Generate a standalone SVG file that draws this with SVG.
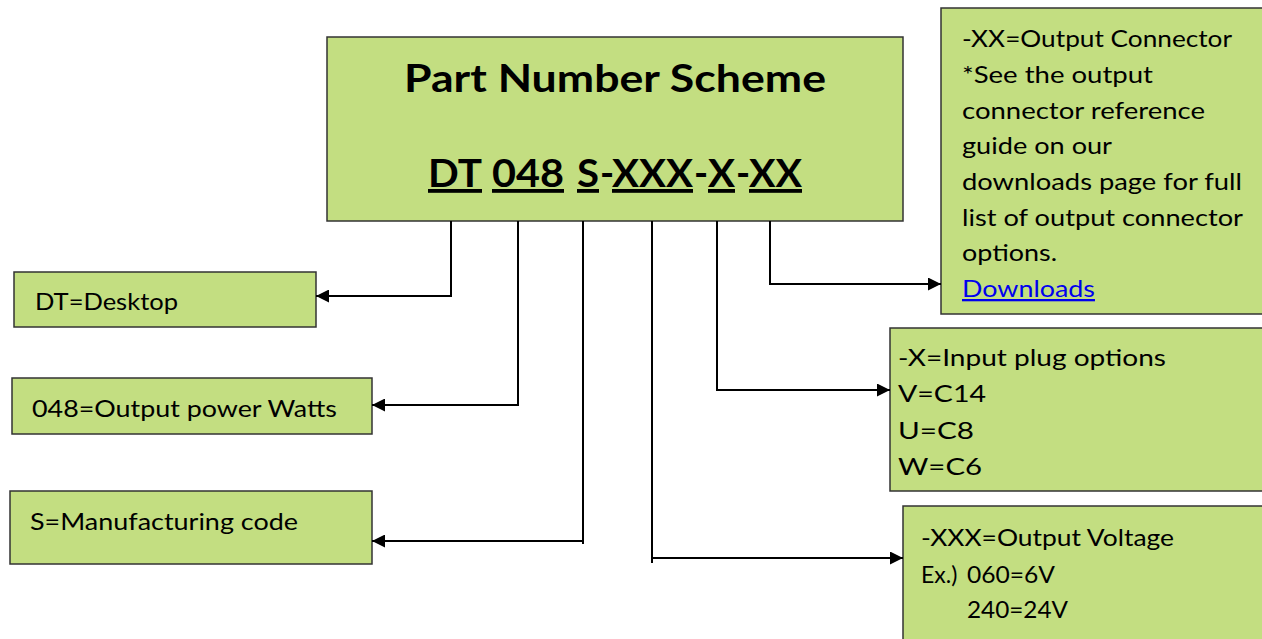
<svg xmlns="http://www.w3.org/2000/svg" width="1262" height="639" viewBox="0 0 1262 639">
<style>
.box{fill:#C3DE81;stroke:#333;stroke-width:1.5}
.t{font-family:Lato,"Liberation Sans",sans-serif;font-size:23px;fill:#000}
.h{font-family:Lato,"Liberation Sans",sans-serif;font-size:38px;font-weight:bold;fill:#000}
.u{text-decoration:underline}
.c{fill:none;stroke:#000;stroke-width:2}
.link{fill:#0000EE;text-decoration:underline}
</style>
<defs>
<marker id="ah" viewBox="0 0 10 10" refX="10" refY="5" markerWidth="6.5" markerHeight="6.5" markerUnits="strokeWidth" orient="auto">
<path d="M0,0 L10,5 L0,10 z" fill="#000"/>
</marker>
</defs>
<rect width="1262" height="639" fill="#fff"/>

<g id="main">
<rect class="box" x="327" y="37" width="576" height="184"/>
<text class="h" x="404" y="92" textLength="422" lengthAdjust="spacingAndGlyphs">Part Number Scheme</text>
<text class="h u" x="428" y="187" textLength="54" lengthAdjust="spacingAndGlyphs">DT</text>
<text class="h u" x="492" y="187" textLength="72" lengthAdjust="spacingAndGlyphs">048</text>
<text class="h u" x="577" y="187" textLength="22" lengthAdjust="spacingAndGlyphs">S</text>
<text class="h" x="600" y="187">-</text>
<text class="h u" x="612" y="187" textLength="81" lengthAdjust="spacingAndGlyphs">XXX</text>
<text class="h" x="694" y="187">-</text>
<text class="h u" x="708" y="187" textLength="27" lengthAdjust="spacingAndGlyphs">X</text>
<text class="h" x="736" y="187">-</text>
<text class="h u" x="749" y="187" textLength="53" lengthAdjust="spacingAndGlyphs">XX</text>
</g>

<g id="desktop">
<rect class="box" x="14" y="272" width="302" height="55"/>
<text class="t" x="35" y="310" textLength="143" lengthAdjust="spacingAndGlyphs">DT=Desktop</text>
</g>

<g id="power">
<rect class="box" x="12" y="378" width="360" height="56"/>
<text class="t" x="32" y="417" textLength="305" lengthAdjust="spacingAndGlyphs">048=Output power Watts</text>
</g>

<g id="mfg">
<rect class="box" x="10" y="491" width="362" height="73"/>
<text class="t" x="30" y="530" textLength="268" lengthAdjust="spacingAndGlyphs">S=Manufacturing code</text>
</g>

<g id="connector">
<rect class="box" x="941" y="8" width="330" height="306"/>
<text class="t" x="962" y="47" textLength="270" lengthAdjust="spacingAndGlyphs">-XX=Output Connector</text>
<text class="t" x="962" y="83" textLength="191" lengthAdjust="spacingAndGlyphs">*See the output</text>
<text class="t" x="962" y="119" textLength="243" lengthAdjust="spacingAndGlyphs">connector reference</text>
<text class="t" x="962" y="154" textLength="150" lengthAdjust="spacingAndGlyphs">guide on our</text>
<text class="t" x="962" y="190" textLength="280" lengthAdjust="spacingAndGlyphs">downloads page for full</text>
<text class="t" x="962" y="226" textLength="281" lengthAdjust="spacingAndGlyphs">list of output connector</text>
<text class="t" x="962" y="261" textLength="95" lengthAdjust="spacingAndGlyphs">options.</text>
<text class="t link" x="962" y="297" textLength="133" lengthAdjust="spacingAndGlyphs">Downloads</text>
</g>

<g id="input">
<rect class="box" x="890" y="328" width="380" height="163"/>
<text class="t" x="898" y="366" textLength="268" lengthAdjust="spacingAndGlyphs">-X=Input plug options</text>
<text class="t" x="898" y="402" textLength="88" lengthAdjust="spacingAndGlyphs">V=C14</text>
<text class="t" x="898" y="439" textLength="76" lengthAdjust="spacingAndGlyphs">U=C8</text>
<text class="t" x="898" y="475" textLength="84" lengthAdjust="spacingAndGlyphs">W=C6</text>
</g>

<g id="voltage">
<rect class="box" x="903" y="506" width="370" height="140"/>
<text class="t" x="921" y="546" textLength="253" lengthAdjust="spacingAndGlyphs">-XXX=Output Voltage</text>
<text class="t" x="921" y="583">Ex.)</text>
<text class="t" x="967" y="583" textLength="88" lengthAdjust="spacingAndGlyphs">060=6V</text>
<text class="t" x="967" y="618" textLength="101" lengthAdjust="spacingAndGlyphs">240=24V</text>
</g>

<g id="connectors">
<path class="c" d="M451,221 V296 H316" marker-end="url(#ah)"/>
<path class="c" d="M518,221 V405 H372" marker-end="url(#ah)"/>
<path class="c" d="M583,221 V544 M584,541 H372" marker-end="url(#ah)"/>
<path class="c" d="M652,221 V563 M651,558 H903" marker-end="url(#ah)"/>
<path class="c" d="M717,221 V390 H890" marker-end="url(#ah)"/>
<path class="c" d="M770,221 V284 H941" marker-end="url(#ah)"/>
</g>
</svg>
